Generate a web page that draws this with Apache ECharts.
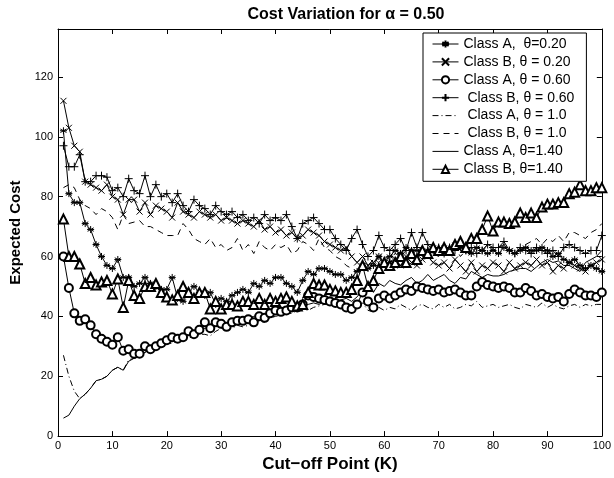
<!DOCTYPE html>
<html>
<head>
<meta charset="utf-8">
<script src="https://cdn.jsdelivr.net/npm/echarts@6/dist/echarts.min.js"></script>
<style>
  html, body { margin: 0; padding: 0; background: #fff; }
  #main { width: 614px; height: 478px; }
</style>
</head>
<body>
<div id="main"></div>
<script>
// cut-off point K = 1..100
var kList = []
for (var k = 1; k <= 100; k++) kList.push(k)

// Class A, theta = 0.20 (asterisk)
var classA020 = [
  102, 81, 78, 78, 71, 69, 64, 60, 57, 56,
  59, 53, 53, 50, 51, 53, 51, 50, 49, 49,
  53, 46, 45, 48, 50, 48, 47, 48, 44, 46,
  45, 47, 48, 49, 48, 51, 50, 52, 51, 53,
  53, 51, 50, 48, 52, 55, 54, 56, 56, 55,
  54, 54, 52, 53, 55, 57, 56, 57, 60, 58,
  60, 62, 61, 63, 62, 62, 61, 62, 63, 62,
  63, 62, 64, 63, 62, 61, 63, 62, 61, 62,
  61, 63, 62, 61, 62, 63, 62, 62, 63, 62,
  60, 61, 59, 58, 59, 57, 56, 57, 56, 55
]
// Class B, theta = 0.20 (x)
var classB020 = [
  112, 103, 97, 95, 85, 84, 83, 82, 84, 80,
  79, 74, 79, 79, 75, 78, 74, 77, 76, 75,
  73, 78, 75, 74, 73, 75, 74, 73, 74, 72,
  73, 72, 71, 72, 71, 70, 72, 69, 70, 68,
  69, 67, 68, 66, 67, 69, 68, 67, 65, 64,
  63, 62, 63, 60, 58, 60, 57, 58, 60, 57,
  58, 59, 57, 60, 58, 57, 59, 60, 58, 57,
  58, 56, 59, 57, 55, 58, 55, 57, 56, 58,
  57, 55, 58, 56, 57, 58, 57, 59, 57, 58,
  55, 57, 56, 58, 57, 56, 55, 57, 58, 59
]
// Class A, theta = 0.60 (circle)
var classA060 = [
  60, 49.5, 41, 38.5, 39, 37, 34, 32.5, 31.5, 30.5,
  33, 28.5, 29, 27.5, 27.5, 30, 29, 30, 31, 32,
  33, 32.5, 33, 35, 34, 35.5, 38, 36, 38, 37.5,
  36.5, 38, 38.5, 38.5, 39, 38, 40, 39.5, 41, 42,
  41.5, 42, 43, 43, 44, 47, 46.5, 46, 45.5, 45,
  44.5, 44, 43, 42.5, 44, 48, 45, 43, 46, 47,
  46, 47, 48, 49, 48.5, 50, 49.5, 49, 48.5, 49,
  48, 48.5, 49, 48, 47, 47, 50, 51.5, 50.5, 50,
  49.5, 50, 49.5, 48, 48, 49.5, 48.5, 47, 47.5, 46.5,
  46, 46.5, 45, 47.5, 49, 48, 47, 47, 46.5, 48
]
// Class B, theta = 0.60 (plus)
var classB060 = [
  97, 90, 90, 94, 85, 85, 87, 87, 86.5, 82,
  83, 80, 86, 82, 81, 87, 80, 84, 80, 81,
  78, 81, 77, 75, 79, 77, 76, 74, 77, 75,
  74, 75, 73, 74, 72, 73, 71, 74, 72, 73,
  72, 74, 70, 66, 71, 72, 73, 71, 69, 69,
  66, 64, 62, 66, 69, 64, 60, 62, 67, 63,
  62, 64, 66, 62, 68, 63, 68, 64, 62, 63,
  61, 63, 62, 64, 62, 63, 61, 62, 64, 63,
  63, 65, 62, 61, 63, 62, 61, 63, 62, 61,
  62, 60, 63, 64, 63, 62, 61, 62, 62, 67
]
// Class A, theta = 1.0 (dash-dot)
var classA10 = [
  27, 20, 15, 12.5, 14, 16, 18.5, 19, 20, 22,
  23, 22, 25.5, 26, 26.5, 28, 29, 29.5, 30, 31,
  31, 32, 32, 33, 33, 34, 34, 33.5, 35, 36,
  35.5, 36, 37, 36.5, 37, 38, 38.5, 38, 39.5, 40,
  40.5, 41, 41, 42, 42.5, 42, 43, 43.5, 44, 44,
  43.5, 43, 42.5, 42, 43, 44.5, 42, 41.5, 43, 42,
  43, 42.5, 44, 43, 42, 43.5, 44, 43, 42.5, 44,
  43, 44, 42.5, 43, 44, 43.5, 45, 43, 43.5, 44,
  43, 43.5, 44, 43, 42.5, 44, 43.5, 43, 44.5, 43,
  44, 43, 42.5, 43.5, 44, 43, 44, 43.5, 44, 44
]
// Class B, theta = 1.0 (dashed)
var classB10 = [
  83, 84, 83, 79, 77, 76, 74, 76, 75, 73,
  69, 74, 71, 71.5, 72, 70, 70, 69, 68, 67,
  67, 67, 71, 69, 66, 65, 64, 66, 63, 64,
  62, 63, 66, 62, 64, 61, 65, 63, 62, 64,
  63, 64, 61, 62, 65, 64, 62, 66, 63, 62,
  60, 59, 57, 56, 55, 58, 57, 59, 58, 60,
  59, 61, 60, 62, 60, 61, 63, 62, 61, 60,
  62, 61, 63, 60, 62, 61, 63, 62, 64, 62,
  63, 64, 62, 63, 62, 64, 65, 66, 64, 66,
  65, 67, 65, 68, 68, 67, 66, 68, 69, 71
]
// Class A, theta = 1.40 (solid)
var classA140 = [
  6, 7, 10, 12.5, 14, 16, 18.5, 19, 20, 22,
  23, 22, 25, 26, 26.5, 28, 29, 30, 31, 32,
  32, 33, 33.5, 34, 35, 35.5, 36, 36.5, 37, 38,
  37.5, 38.5, 38, 39, 39.5, 40, 40.5, 40, 41, 41.5,
  42, 41.5, 42.5, 43, 43.5, 44, 44.5, 44, 45, 45.5,
  45, 45.5, 46, 45, 46.5, 49, 50, 48, 51, 50,
  52, 51, 50.5, 52, 53, 51, 52, 54, 52, 53,
  54, 52, 51, 53, 52.5, 55, 54, 53, 54, 53.5,
  53.5, 54, 55, 55.5, 56, 56, 55, 56.5, 58, 59,
  58, 58.5, 57, 57, 56, 55, 58, 59, 60, 62
]
// Class B, theta = 1.40 (triangle)
var classB140 = [
  72.5, 60, 60, 57.5, 51, 53, 50.5, 51.5, 52, 47.5,
  52.5, 43, 52, 47, 46, 50, 50, 51, 48, 46.5,
  45.5, 47, 50, 48, 46, 48, 48, 42.5, 45, 42.5,
  44, 44, 43.5, 45, 45, 44, 46, 44, 46, 45,
  46, 46.5, 45, 43.5, 44, 48, 51, 50.5, 50.5, 49,
  48.5, 48, 48, 49, 52, 57, 50, 52, 56, 58,
  57, 58, 60, 58, 61, 59, 62, 61, 63, 62,
  63, 62, 64, 65, 63, 66, 66, 69, 73.5, 68.5,
  71.5, 71.5, 71, 71.5, 74.5, 73, 74.5, 73, 76.5, 77.5,
  77.5, 78, 78, 81, 81.5, 84, 82, 82, 83, 83
]

var seriesNames = [
  'Class A,  \u03b8=0.20',
  'Class B, \u03b8 = 0.20',
  'Class A, \u03b8 = 0.60',
  ' Class B, \u03b8 = 0.60',
  ' Class A, \u03b8 = 1.0',
  ' Class B, \u03b8 = 1.0',
  'Class A, \u03b8=1.40',
  'Class B, \u03b8=1.40'
]

var starPath = 'path://M0,-1L0,1M-0.87,-0.5L0.87,0.5M-0.87,0.5L0.87,-0.5M-1,0L1,0'
var crossPath = 'path://M-1,-1L1,1M-1,1L1,-1'
var plusPath = 'path://M0,-1L0,1M-1,0L1,0'
var fontName = 'Liberation Sans, Arial, sans-serif'

function pairs(arr) {
  return arr.map(function (v, i) { return [kList[i], v] })
}

function mkSeries(name, data, symbol, size, dash) {
  return {
    name: name,
    type: 'line',
    data: pairs(data),
    symbol: symbol,
    symbolSize: size,
    showSymbol: symbol !== 'none',
    lineStyle: { color: '#000', width: 1, type: dash || 'solid' },
    itemStyle: { color: '#000', borderColor: '#000', borderWidth: 1 }
  }
}

var myChart = echarts.init(document.getElementById('main'))

var axisCommon = {
  axisLine: { show: true, onZero: false, lineStyle: { color: '#000', width: 1 } },
  axisTick: { show: true, inside: true, length: 5, lineStyle: { color: '#000' } },
  splitLine: { show: false }
}

// legend rows: markers hidden for the plain line styles
var legendData = seriesNames.map(function (n, i) {
  var item = { name: n }
  if (i >= 4 && i <= 6) item.itemStyle = { opacity: 0 }
  return item
})

var option = {
  backgroundColor: '#fff',
  animation: false,
  title: {
    text: 'Cost Variation for \u03b1 = 0.50',
    left: 341,
    textAlign: 'center',
    top: 2,
    textStyle: { fontFamily: fontName, fontSize: 16, fontWeight: 'bold', color: '#000' }
  },
  legend: {
    orient: 'vertical',
    left: 423,
    top: 33,
    backgroundColor: '#fff',
    borderColor: '#000',
    borderWidth: 1,
    borderRadius: 0,
    padding: [3, 12, 4, 9],
    itemGap: 1.9,
    itemWidth: 26,
    itemHeight: 9,
    lineStyle: { width: 1 },
    textStyle: { fontFamily: fontName, fontSize: 14, lineHeight: 16, color: '#000' },
    data: legendData
  },
  grid: { left: 58, right: 9, top: 29, bottom: 40.5, containLabel: false },
  xAxis: [
    Object.assign({
      type: 'value', min: 0, max: 100, interval: 10,
      name: 'Cut\u2212off Point (K)',
      nameLocation: 'middle',
      nameGap: 16,
      nameTextStyle: { fontFamily: fontName, fontSize: 17, fontWeight: 'bold', color: '#000' },
      axisLabel: { fontFamily: fontName, fontSize: 11, color: '#000', margin: 4 }
    }, axisCommon),
    Object.assign({
      type: 'value', min: 0, max: 100, interval: 10, position: 'top',
      axisLabel: { show: false }
    }, axisCommon)
  ],
  yAxis: [
    Object.assign({
      type: 'value', min: 0, max: 136, interval: 20,
      name: 'Expected Cost',
      nameLocation: 'middle',
      nameGap: 30,
      nameTextStyle: { fontFamily: fontName, fontSize: 15, fontWeight: 'bold', color: '#000' },
      axisLabel: {
        fontFamily: fontName, fontSize: 11, color: '#000', margin: 5,
        formatter: function (v) { return v > 120 ? '' : v }
      }
    }, axisCommon),
    Object.assign({
      type: 'value', min: 0, max: 136, interval: 20, position: 'right',
      axisLabel: { show: false }
    }, axisCommon)
  ],
  series: [
    mkSeries(seriesNames[0], classA020, starPath, 7),
    mkSeries(seriesNames[1], classB020, crossPath, 6),
    mkSeries(seriesNames[2], classA060, 'emptyCircle', 8),
    mkSeries(seriesNames[3], classB060, plusPath, 8),
    mkSeries(seriesNames[4], classA10, 'none', 0, [6, 3, 1, 3]),
    mkSeries(seriesNames[5], classB10, 'none', 0, [6, 5]),
    mkSeries(seriesNames[6], classA140, 'none', 0),
    mkSeries(seriesNames[7], classB140, 'emptyTriangle', 9)
  ]
}

myChart.setOption(option)
</script>
</body>
</html>
